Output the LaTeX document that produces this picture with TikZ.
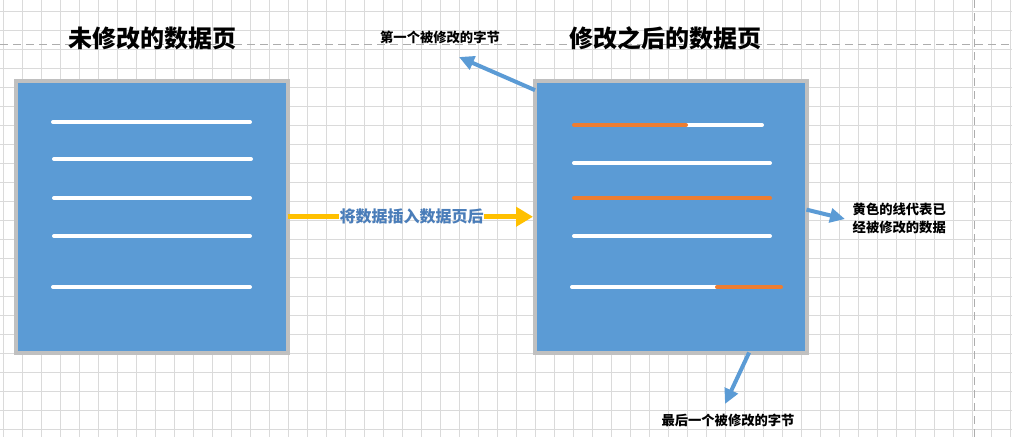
\documentclass[tikz,border=0pt]{standalone}
\usepackage{fontspec}
\newfontfamily\cjk{Noto Sans CJK SC}
\usetikzlibrary{arrows.meta}
\definecolor{boxblue}{HTML}{5B9BD5}
\definecolor{boxgray}{HTML}{C0C0C0}
\definecolor{dorange}{HTML}{ED7D31}
\definecolor{ayellow}{HTML}{FFC000}
\definecolor{labblue}{HTML}{4A7DB9}
\definecolor{gridc}{HTML}{DADADA}
\definecolor{dashc}{HTML}{ADADAD}
\begin{document}
\begin{tikzpicture}[x=1pt,y=-1pt,
  pagebox/.style={draw=boxgray, line width=4pt, fill=boxblue, minimum width=271.5pt, minimum height=271.5pt, inner sep=0pt, outer sep=0pt},
  dataline/.style={line width=4pt, line cap=round, draw=white},
  modline/.style={line width=4pt, line cap=round, draw=dorange},
  titletext/.style={font=\cjk\bfseries\fontsize{24}{28}\selectfont, inner sep=0pt},
  notetext/.style={font=\cjk\bfseries\fontsize{13.3}{18}\selectfont, inner sep=0pt},
  midtext/.style={font=\cjk\bfseries\fontsize{16}{18}\selectfont, text=labblue, inner sep=0.5pt},
  barrow/.style={draw=boxblue, line width=4pt, -{Triangle[length=15pt,width=14pt]}},
  yline/.style={draw=ayellow, line width=5pt},
  yarrow/.style={yline, -{Triangle[length=17pt,width=19pt]}, shorten >=2pt}]
\useasboundingbox (0,0) rectangle (1012,437);
\fill[white] (0,0) rectangle (1012,437);
% grid
\foreach \k in {0,...,53} {\draw[gridc, line width=1pt] ({3.7+19*\k},0) -- ({3.7+19*\k},437);}
\foreach \k in {0,...,22} {\draw[gridc, line width=1pt] (0,{11.7+19*\k}) -- (1012,{11.7+19*\k});}
% dashed guides
\draw[dashc, line width=1pt, dash pattern=on 8pt off 5pt] (0,44) -- (1012,44);
\draw[dashc, line width=1pt, dash pattern=on 8pt off 5pt] (974.5,0) -- (974.5,437);
% boxes
\node[pagebox] (lbox) at (151.75,216.75) {};
\node[pagebox] (rbox) at (670.75,216.75) {};
% lines in left box
\draw[dataline] (53,122) -- (250,122);
\draw[dataline] (54,159) -- (251,159);
\draw[dataline] (54,198) -- (250,198);
\draw[dataline] (54,236) -- (250,236);
\draw[dataline] (53,287) -- (250,287);
% lines in right box
\draw[dataline] (686,125) -- (762,125);
\draw[modline] (574,125) -- (686,125);
\draw[dataline] (574,163) -- (770,163);
\draw[modline] (574,198) -- (770,198);
\draw[dataline] (574,236) -- (770,236);
\draw[dataline] (572,287) -- (717,287);
\draw[modline] (717,287) -- (781,287);
% titles and notes
\node[titletext] (tleft) at (152,38) {未修改的数据页};
\node[titletext] (tright) at (665,38) {修改之后的数据页};
\node[notetext] (n1) at (440,37.5) {第一个被修改的字节};
\node[notetext, align=left, anchor=west] (n2) at (852.5,218) {黄色的线代表已\\经被修改的数据};
\node[notetext] (n3) at (728,420.5) {最后一个被修改的字节};
% yellow arrow with label
\node[midtext] (ylab) at (411.5,216.75) {将数据插入数据页后};
\draw[yline] (lbox.east) -- (ylab.west);
\draw[yarrow] (ylab.east) -- (rbox.west);
% blue arrows
\coordinate (t1) at (459,57);
\coordinate (t2) at (845,219);
\coordinate (t3) at (725,404);
\draw[barrow] (rbox.137.65) -- (t1);
\draw[barrow] (rbox.3.3) -- (t2);
\draw[barrow] (rbox.-60.7) -- (t3);
\end{tikzpicture}
\end{document}
